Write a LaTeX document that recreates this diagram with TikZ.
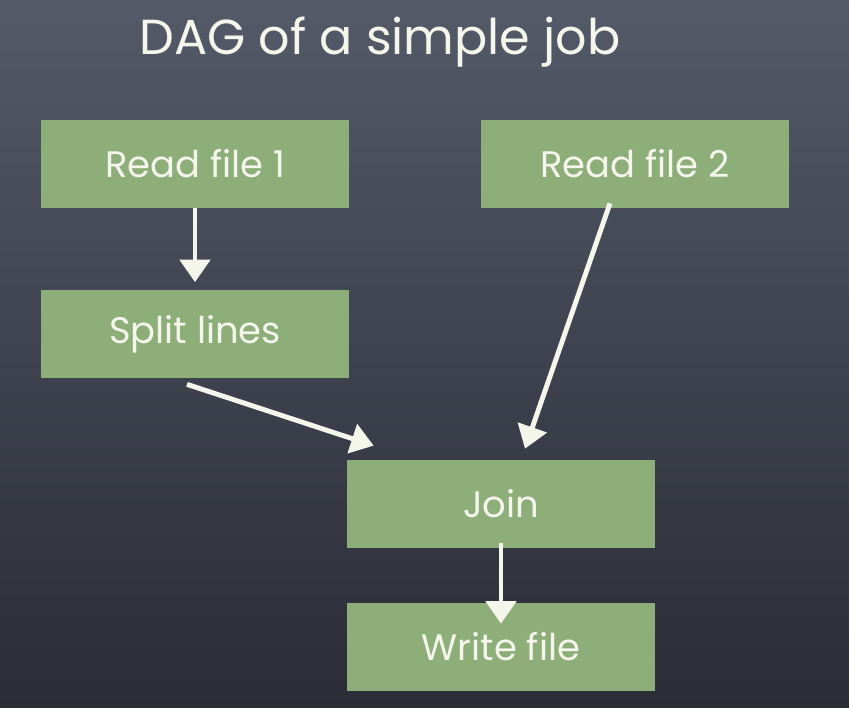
\documentclass[tikz,border=0pt]{standalone}
\usepackage{fontspec}
\setmainfont{Poppins}
\usetikzlibrary{positioning, arrows.meta}
\definecolor{boardtop}{RGB}{84,90,104}
\definecolor{boardbottom}{RGB}{42,44,54}
\definecolor{boxgreen}{RGB}{141,173,121}
\definecolor{chalk}{RGB}{244,246,236}

\begin{document}
\begin{tikzpicture}[
    x=0.02cm, y=-0.02cm,
    job/.style={fill=boxgreen, minimum width=6.16cm, minimum height=1.76cm, inner sep=0pt, text=chalk, font=\fontsize{21}{24}\selectfont},
    arrow/.style={-{Triangle[length=4.5mm, width=6mm]}, line width=2.8pt, chalk}
]
    % Board
    \shade[top color=boardtop, bottom color=boardbottom] (0,0) rectangle (849,707);
    \useasboundingbox (0,0) rectangle (849,707);

    % Title
    \node[text=chalk, font=\fontsize{28}{32}\selectfont] (title) at (380,42) {DAG of a simple job};

    % Stages
    \node[job] (read1) at (195,164) {Read file 1};
    \node[job] (read2) at (635,164) {Read file 2};
    \node[job] (split) at (195,334) {Split lines};
    \node[job] (join) at (501,504) {Join};
    \node[job] (write) at (501,647) {Write file};

    % Edges
    \draw[arrow] (read1.south) -- ([yshift=1.5mm]split.north);
    \draw[arrow] ([xshift=-1.6mm, yshift=-1.2mm]split.south) -- ([xshift=5.4mm, yshift=2.8mm]join.north west);
    \draw[arrow] ([xshift=-5mm, yshift=1mm]read2.south) -- ([xshift=4.8mm, yshift=2.2mm]join.north);
    \draw[arrow] ([yshift=1mm]join.south) -- ([yshift=-4.2mm]write.north);

\end{tikzpicture}
\end{document}
